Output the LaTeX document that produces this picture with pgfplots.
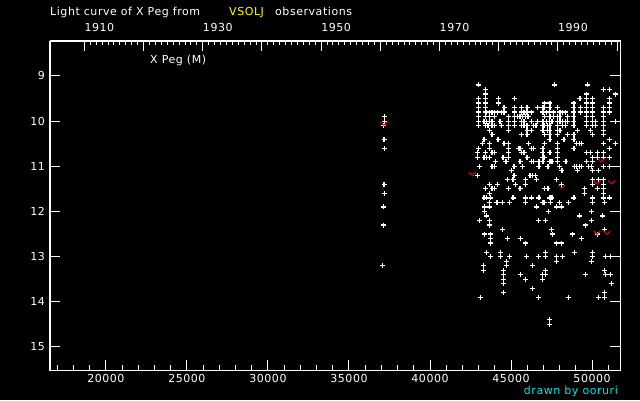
\documentclass[border=0pt]{standalone}
\usepackage{fontspec}
\setmainfont{DejaVu Sans}[LetterSpace=5]
\usepackage{pgfplots}
\pgfplotsset{compat=1.18}
\definecolor{vred}{RGB}{230,0,0}
\definecolor{vyel}{RGB}{255,255,0}
\definecolor{vcyan}{RGB}{0,230,230}
\pgfdeclareplotmark{vee}{%
  \pgfpathmoveto{\pgfqpoint{-3.5pt}{2pt}}%
  \pgfpathlineto{\pgfqpoint{0pt}{-1.5pt}}%
  \pgfpathlineto{\pgfqpoint{3.5pt}{2pt}}%
  \pgfusepathqstroke}
\begin{document}
\fontsize{11}{13}\selectfont
\begin{tikzpicture}[x=1pt,y=1pt]
\fill[black] (0,0) rectangle (640,400);
\pgfplotsset{
  myframe/.style={
    at={(50pt,30pt)}, anchor=south west, width=570pt, height=329pt, scale only axis,
    axis background/.style={fill=none},
    axis line style={white, line width=1pt},
    every tick/.style={white, line width=1pt},
    tick label style={white, font=\fontsize{11}{13}\selectfont},
    /pgf/number format/assume math mode=true,
    /pgf/number format/1000 sep={},
  }
}
\begin{axis}[myframe,
  xmin=16552, xmax=51724, ymin=8.226, ymax=15.51, y dir=reverse,
  xtick={20000,25000,...,50000}, minor xtick={17000,18000,...,51000},
  scaled x ticks=false,
  xtick pos=left, ytick={9,10,...,15}, ytick pos=both,
  major tick length=10pt, minor tick length=5pt,
  xticklabel style={anchor=base, inner sep=0pt, yshift=-12pt},
  yticklabel style={anchor=east, inner sep=0pt, xshift=-5pt},
]
\addplot[only marks, mark=+, mark size=2.5pt, white, line width=1.2pt] coordinates {
(37199,9.9) (37180,10.0) (37137,10.1) (37162,10.4) (37199,10.6) (37162,11.4) (37180,11.6) (37137,11.9) (37137,12.3) (37076,13.2)
(42989,9.2) (47689,9.2) (49700,9.2)
(43420,9.3) (50727,9.3) (51076,9.3)
(43420,9.4) (49639,9.4) (51445,9.4)
(42989,9.5) (43420,9.5) (44220,9.5) (45205,9.5) (49249,9.5) (49639,9.5) (50049,9.5) (51076,9.5)
(42989,9.6) (43420,9.6) (44220,9.6) (47073,9.6) (47401,9.6) (48879,9.6) (49639,9.6) (50049,9.6) (51076,9.6)
(42989,9.7) (43420,9.7) (44569,9.7) (45205,9.7) (45636,9.7) (45985,9.7) (46621,9.7) (46970,9.7) (47073,9.7) (47401,9.7) (47853,9.7) (48879,9.7) (49290,9.7) (49639,9.7) (50049,9.7) (50685,9.7) (51076,9.7)
(42989,9.8) (43420,9.8) (43502,9.8) (43666,9.8) (43830,9.8) (43994,9.8) (44159,9.8) (44405,9.8) (44569,9.8) (45205,9.8) (45636,9.8) (45801,9.8) (45985,9.8) (46252,9.8) (46970,9.8) (47196,9.8) (47360,9.8) (47607,9.8) (48017,9.8) (48181,9.8) (48346,9.8) (48879,9.8) (49290,9.8) (49639,9.8) (50049,9.8) (50685,9.8) (51076,9.8)
(42989,9.9) (43420,9.9) (43666,9.9) (43994,9.9) (44836,9.9) (45205,9.9) (45390,9.9) (45554,9.9) (45718,9.9) (45883,9.9) (46047,9.9) (47073,9.9) (47401,9.9) (47607,9.9) (47853,9.9) (48017,9.9) (48469,9.9) (48879,9.9) (49639,9.9) (50049,9.9) (50685,9.9)
(42989,10.0) (43337,10.0) (43502,10.0) (43666,10.0) (43830,10.0) (44323,10.0) (44836,10.0) (45205,10.0) (45636,10.0) (45801,10.0) (46252,10.0) (46621,10.0) (46970,10.0) (47196,10.0) (47360,10.0) (47525,10.0) (47853,10.0) (48017,10.0) (48181,10.0) (48346,10.0) (48469,10.0) (48879,10.0) (49639,10.0) (50049,10.0) (50213,10.0) (50685,10.0) (51445,10.0)
(42989,10.1) (43420,10.1) (43584,10.1) (43830,10.1) (43994,10.1) (44405,10.1) (44836,10.1) (45205,10.1) (45636,10.1) (45801,10.1) (45985,10.1) (46375,10.1) (46539,10.1) (46970,10.1) (47073,10.1) (47237,10.1) (47401,10.1) (47853,10.1) (48181,10.1) (48346,10.1) (48879,10.1) (49639,10.1) (50049,10.1) (50213,10.1) (50685,10.1)
(43666,10.2) (44836,10.2) (45985,10.2) (46252,10.2) (46970,10.2) (47237,10.2) (47401,10.2) (47853,10.2) (48017,10.2) (49085,10.2) (49906,10.2) (50685,10.2)
(43830,10.3) (45636,10.3) (45985,10.3) (47073,10.3) (47401,10.3) (47853,10.3) (48469,10.3) (48879,10.3) (50008,10.3) (50685,10.3)
(43337,10.4) (44200,10.4) (47401,10.4) (48264,10.4) (48879,10.4) (51096,10.4)
(43235,10.5) (43666,10.5) (44569,10.5) (44836,10.5) (46067,10.5) (47073,10.5) (47853,10.5) (49043,10.5) (49208,10.5) (49372,10.5) (50685,10.5) (51445,10.5)
(42989,10.6) (43666,10.6) (44836,10.6) (45472,10.6) (45554,10.6) (46273,10.6) (46375,10.6) (46970,10.6) (47853,10.6) (48879,10.6) (51076,10.6)
(42927,10.7) (43420,10.7) (43830,10.7) (43994,10.7) (44836,10.7) (45636,10.7) (45801,10.7) (46970,10.7) (47401,10.7) (47853,10.7) (49659,10.7) (49906,10.7) (50316,10.7) (50685,10.7)
(42927,10.8) (43337,10.8) (43502,10.8) (43666,10.8) (44507,10.8) (44836,10.8) (45985,10.8) (46970,10.8) (47073,10.8) (47853,10.8) (50008,10.8) (50316,10.8) (50685,10.8) (51096,10.8)
(44035,10.9) (44651,10.9) (44733,10.9) (45554,10.9) (46252,10.9) (46375,10.9) (46724,10.9) (46970,10.9) (47401,10.9) (47525,10.9) (47853,10.9) (48387,10.9) (49659,10.9) (50008,10.9)
(43050,11.0) (43830,11.0) (43994,11.0) (45185,11.0) (45718,11.0) (46724,11.0) (47278,11.0) (47976,11.0) (48920,11.0) (49043,11.0) (49208,11.0) (49372,11.0) (49782,11.0) (49947,11.0) (50685,11.0) (51096,11.0)
(45041,11.1) (48140,11.1) (49085,11.1) (50008,11.1) (50419,11.1)
(42927,11.2) (45185,11.2) (46170,11.2) (46334,11.2) (46498,11.2)
(44774,11.3) (45123,11.3) (45903,11.3) (46580,11.3) (47812,11.3) (50008,11.3) (50419,11.3) (50685,11.3)
(43666,11.4) (44159,11.4) (45287,11.4) (45903,11.4) (48099,11.4) (50008,11.4) (50685,11.4)
(43420,11.5) (43830,11.5) (43994,11.5) (44836,11.5) (45554,11.5) (47073,11.5) (47278,11.5) (49536,11.5) (50316,11.5) (50685,11.5)
(43666,11.6) (49536,11.6) (50685,11.6)
(43337,11.7) (43502,11.7) (43748,11.7) (45123,11.7) (45903,11.7) (46252,11.7) (46724,11.7) (47401,11.7) (47525,11.7) (48879,11.7) (50008,11.7) (50685,11.7) (51076,11.7)
(43666,11.8) (44117,11.8) (44159,11.8) (44466,11.8) (44897,11.8) (45883,11.8) (46970,11.8) (47073,11.8) (47443,11.8) (47976,11.8) (48530,11.8) (50008,11.8) (50747,11.8)
(43358,11.9) (43666,11.9) (46560,11.9) (47791,11.9) (48099,11.9)
(43358,12.0) (47299,12.0) (49947,12.0)
(43481,12.1) (49208,12.1) (50624,12.1)
(43050,12.2) (43666,12.2) (46683,12.2) (47114,12.2) (49947,12.2)
(43666,12.3) (49577,12.3)
(44466,12.4) (47484,12.4) (50747,12.4)
(43358,12.5) (43727,12.5) (47545,12.5) (48776,12.5) (50316,12.5)
(43727,12.6) (44774,12.6) (45575,12.6) (49331,12.6)
(43727,12.7) (45883,12.7) (47791,12.7) (48099,12.7)
(43481,12.9) (44343,12.9) (47114,12.9) (48900,12.9) (50008,12.9)
(43727,13.0) (44343,13.0) (44897,13.0) (45944,13.0) (46683,13.0) (47114,13.0) (47791,13.0) (48161,13.0) (50008,13.0) (50809,13.0) (51117,13.0)
(44713,13.1) (47791,13.1) (49947,13.1)
(43296,13.2) (44713,13.2) (46314,13.2)
(43296,13.3) (44528,13.3) (47114,13.3) (50747,13.3)
(44528,13.4) (45575,13.4) (46929,13.4) (47114,13.4) (49577,13.4) (50809,13.4) (51117,13.4)
(44528,13.5) (45883,13.5) (46929,13.5)
(44528,13.6) (51178,13.6)
(46314,13.7)
(44528,13.8) (50747,13.8)
(43112,13.9) (46683,13.9) (48530,13.9) (50378,13.9) (50747,13.9)
(47360,14.4) (47360,14.5)
};
\addplot[only marks, mark=vee, vred, line width=1pt] coordinates {
(37150,10.06) (42617,11.17) (48121,11.46) (50561,10.87) (50314,11.36) (51202,11.36) (50296,12.47) (50912,12.47)
};
\end{axis}
\begin{axis}[myframe,
  xmin=1904.19, xmax=2000.49, ymin=0, ymax=1, ytick=\empty,
  xtick pos=right, xticklabel pos=right,
  xtick={1910,1920,...,2000}, xticklabels={1910,,1930,,1950,,1970,,1990,},
  minor xtick={1910,1911,...,2000},
  major tick length=10pt, minor tick length=4pt,
  xticklabel style={anchor=base west, inner sep=0pt, yshift=9pt},
]
\end{axis}
\node[anchor=base west, inner sep=0pt, white] at (50,384) {Light curve of X Peg from};
\node[anchor=base west, inner sep=0pt, vyel] at (229,384) {VSOLJ};
\node[anchor=base west, inner sep=0pt, white] at (275,384) {observations};
\node[anchor=base west, inner sep=0pt, white] at (150,336) {X Peg (M)};
\node[anchor=base east, inner sep=0pt, vcyan] at (618,6) {drawn by ooruri};
\end{tikzpicture}
\end{document}
